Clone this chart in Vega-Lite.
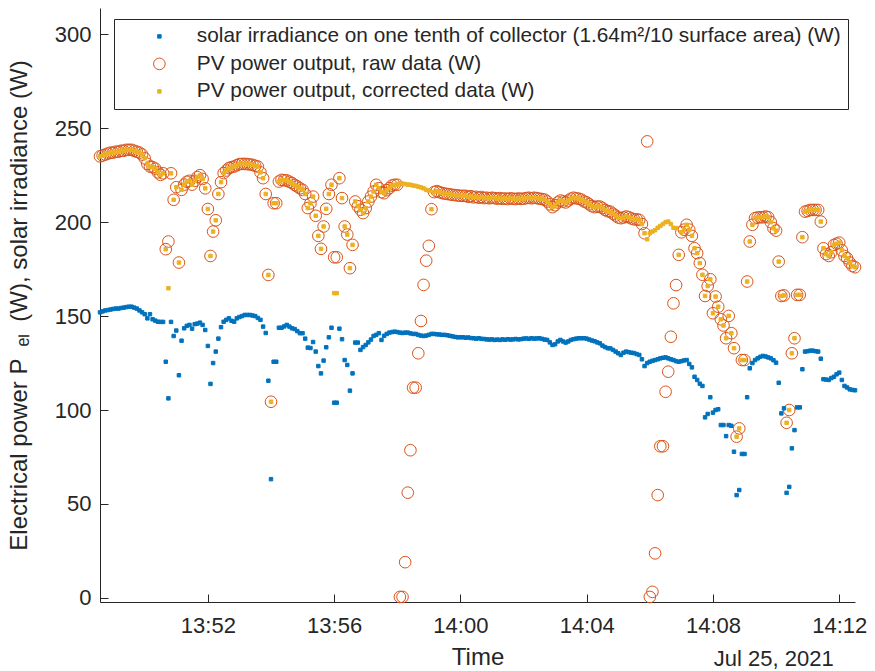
{
"$schema": "https://vega.github.io/schema/vega-lite/v6.json",
"width": 755, "height": 594,
"autosize": {"type": "none"},
"padding": {"left": 100, "top": 8, "right": 20, "bottom": 69},
"background": "white",
"title": {"text": "Jul 25, 2021", "orient": "bottom", "anchor": "end", "fontSize": 22, "fontWeight": "normal", "color": "#262626", "font": "Liberation Sans", "offset": -20, "dx": -33},
"config": {
  "view": {"stroke": null},
  "font": "Liberation Sans",
  "axis": {"domainColor": "#262626", "domainWidth": 1, "tickColor": "#262626", "tickWidth": 1, "tickSize": -8, "labelColor": "#262626", "labelFontSize": 22, "labelFont": "Liberation Sans", "titleFont": "Liberation Sans", "titleFontSize": 24, "titleFontWeight": "normal", "titleColor": "#262626", "grid": false},
  "legend": {"orient": "none", "legendX": 14, "legendY": 11, "direction": "vertical", "padding": 7, "strokeColor": "#262626", "fillColor": "white", "labelFontSize": 20.8, "labelFont": "Liberation Sans", "labelColor": "#262626", "labelLimit": 900, "symbolOffset": 28, "labelOffset": 27, "rowPadding": 5.5, "symbolStrokeWidth": 1}
},
"data": {"format": {"parse": {"t": "date:'%H:%M:%S'"}}, "values": [
{"t":"13:48:35","irr":152,"raw":235,"cor":235},
{"t":"13:48:40","irr":152.5,"raw":235.5,"cor":235.5},
{"t":"13:48:45","irr":153,"raw":236,"cor":236},
{"t":"13:48:50","irr":153.2,"raw":236.5,"cor":236.5},
{"t":"13:48:55","irr":153.5,"raw":237,"cor":237},
{"t":"13:49:00","irr":153.8,"raw":237,"cor":237},
{"t":"13:49:05","irr":154,"raw":237.5,"cor":237.5},
{"t":"13:49:10","irr":154,"raw":237.5,"cor":237.5},
{"t":"13:49:15","irr":154.3,"raw":238,"cor":238},
{"t":"13:49:20","irr":154.5,"raw":238,"cor":238},
{"t":"13:49:25","irr":154.8,"raw":238.5,"cor":238.5},
{"t":"13:49:30","irr":155,"raw":238.5,"cor":238.5},
{"t":"13:49:35","irr":155,"raw":238.5,"cor":238.5},
{"t":"13:49:40","irr":154.5,"raw":238,"cor":238},
{"t":"13:49:45","irr":154,"raw":237.5,"cor":237.5},
{"t":"13:49:50","irr":153,"raw":237,"cor":237},
{"t":"13:49:55","irr":152,"raw":236,"cor":236},
{"t":"13:50:00","irr":151,"raw":234,"cor":234},
{"t":"13:50:05","irr":148.8,"raw":231,"cor":231},
{"t":"13:50:10","irr":151,"raw":229.6,"cor":229.6},
{"t":"13:50:15","irr":148.3,"raw":229.3,"cor":229.3},
{"t":"13:50:20","irr":147.6,"raw":228.5,"cor":228.5},
{"t":"13:50:25","irr":147,"raw":226.5,"cor":226.5},
{"t":"13:50:30","irr":146.9,"raw":225.2,"cor":225.2},
{"t":"13:50:35","irr":146.9,"raw":226,"cor":226},
{"t":"13:50:40","irr":125.7,"raw":185.6,"cor":185.6},
{"t":"13:50:45","irr":106.2,"raw":189.7,"cor":164.8},
{"t":"13:50:50","irr":146.9,"raw":226,"cor":226},
{"t":"13:50:55","irr":139.4,"raw":211.9,"cor":211.9},
{"t":"13:51:00","irr":142.3,"raw":218.6,"cor":218.6},
{"t":"13:51:05","irr":118.5,"raw":178.5,"cor":178.5},
{"t":"13:51:10","irr":136.9,"raw":217.2,"cor":217.2},
{"t":"13:51:15","irr":143.5,"raw":220,"cor":220},
{"t":"13:51:20","irr":144.8,"raw":221.5,"cor":221.5},
{"t":"13:51:25","irr":145.3,"raw":222,"cor":222},
{"t":"13:51:30","irr":143.3,"raw":220,"cor":220},
{"t":"13:51:35","irr":145.7,"raw":222,"cor":222},
{"t":"13:51:40","irr":146,"raw":224,"cor":224},
{"t":"13:51:45","irr":146.5,"raw":225,"cor":225},
{"t":"13:51:50","irr":145.3,"raw":223,"cor":223},
{"t":"13:51:55","irr":142.6,"raw":218,"cor":218},
{"t":"13:52:00","irr":134.1,"raw":207,"cor":207},
{"t":"13:52:05","irr":113.9,"raw":182,"cor":182},
{"t":"13:52:10","irr":125,"raw":195,"cor":195},
{"t":"13:52:15","irr":131.1,"raw":201,"cor":201},
{"t":"13:52:20","irr":138,"raw":215,"cor":215},
{"t":"13:52:25","irr":144.1,"raw":221.3,"cor":221.3},
{"t":"13:52:30","irr":147,"raw":226.1,"cor":226.1},
{"t":"13:52:35","irr":148,"raw":227.5,"cor":227.5},
{"t":"13:52:40","irr":148.8,"raw":228.8,"cor":228.8},
{"t":"13:52:45","irr":147.5,"raw":229.3,"cor":229.3},
{"t":"13:52:50","irr":147,"raw":229.6,"cor":229.6},
{"t":"13:52:55","irr":148.8,"raw":230.3,"cor":230.3},
{"t":"13:53:00","irr":149.5,"raw":230.9,"cor":230.9},
{"t":"13:53:05","irr":150,"raw":231,"cor":231},
{"t":"13:53:10","irr":150.6,"raw":231,"cor":231},
{"t":"13:53:15","irr":150.6,"raw":230.9,"cor":230.9},
{"t":"13:53:20","irr":150.6,"raw":230.7,"cor":230.7},
{"t":"13:53:25","irr":150.3,"raw":230.5,"cor":230.5},
{"t":"13:53:30","irr":150,"raw":230,"cor":230},
{"t":"13:53:35","irr":149,"raw":229.6,"cor":229.6},
{"t":"13:53:40","irr":148,"raw":226.5,"cor":226.5},
{"t":"13:53:45","irr":144.4,"raw":223.4,"cor":223.4},
{"t":"13:53:50","irr":141,"raw":215,"cor":215},
{"t":"13:53:55","irr":115.6,"raw":171.9,"cor":171.9},
{"t":"13:54:00","irr":63.2,"raw":104.4,"cor":104.4},
{"t":"13:54:05","irr":125.7,"raw":210.1,"cor":210.1},
{"t":"13:54:10","irr":125.7,"raw":210.1,"cor":210.1},
{"t":"13:54:15","irr":143.8,"raw":221.6,"cor":221.6},
{"t":"13:54:20","irr":143.8,"raw":222.5,"cor":222.5},
{"t":"13:54:25","irr":144.5,"raw":222.3,"cor":222.3},
{"t":"13:54:30","irr":145.3,"raw":222.2,"cor":222.2},
{"t":"13:54:35","irr":144.4,"raw":221.5,"cor":221.5},
{"t":"13:54:40","irr":143.5,"raw":220.8,"cor":220.8},
{"t":"13:54:45","irr":143.1,"raw":219.8,"cor":219.8},
{"t":"13:54:50","irr":142,"raw":219,"cor":219},
{"t":"13:54:55","irr":140.9,"raw":218,"cor":218},
{"t":"13:55:00","irr":140.9,"raw":217.2,"cor":217.2},
{"t":"13:55:05","irr":138,"raw":215,"cor":215},
{"t":"13:55:10","irr":133.2,"raw":207.5,"cor":207.5},
{"t":"13:55:15","irr":133,"raw":210,"cor":210},
{"t":"13:55:20","irr":136.2,"raw":213.6,"cor":213.6},
{"t":"13:55:25","irr":131.1,"raw":203.4,"cor":203.4},
{"t":"13:55:30","irr":123.4,"raw":192.7,"cor":192.7},
{"t":"13:55:35","irr":119.5,"raw":185.8,"cor":185.8},
{"t":"13:55:40","irr":126.3,"raw":197.7,"cor":197.7},
{"t":"13:55:45","irr":133.4,"raw":207.1,"cor":207.1},
{"t":"13:55:50","irr":138.7,"raw":215,"cor":215},
{"t":"13:55:55","irr":143.8,"raw":219.9,"cor":219.9},
{"t":"13:56:00","irr":103.9,"raw":181.3,"cor":162.2},
{"t":"13:56:05","irr":103.9,"raw":181.3,"cor":162.2},
{"t":"13:56:10","irr":143.3,"raw":223.4,"cor":223.4},
{"t":"13:56:15","irr":137.7,"raw":212.8,"cor":212.8},
{"t":"13:56:20","irr":126.6,"raw":197.7,"cor":197.7},
{"t":"13:56:25","irr":124,"raw":193.4,"cor":193.4},
{"t":"13:56:30","irr":110.3,"raw":175.5,"cor":175.5},
{"t":"13:56:35","irr":119.5,"raw":187.9,"cor":187.9},
{"t":"13:56:40","irr":135.9,"raw":211,"cor":211},
{"t":"13:56:45","irr":135.9,"raw":208.5,"cor":208.5},
{"t":"13:56:50","irr":132,"raw":206.6,"cor":206.6},
{"t":"13:56:55","irr":133.5,"raw":204.8,"cor":204.8},
{"t":"13:57:00","irr":134.6,"raw":207.5,"cor":207.5},
{"t":"13:57:05","irr":136,"raw":211,"cor":211},
{"t":"13:57:10","irr":137.5,"raw":213.6,"cor":213.6},
{"t":"13:57:15","irr":139.4,"raw":216.3,"cor":216.3},
{"t":"13:57:20","irr":140,"raw":219.9,"cor":219.9},
{"t":"13:57:25","irr":140.9,"raw":218.1,"cor":218.1},
{"t":"13:57:30","irr":137.3,"raw":216,"cor":216},
{"t":"13:57:35","irr":139.5,"raw":215.4,"cor":215.4},
{"t":"13:57:40","irr":140.5,"raw":217,"cor":217},
{"t":"13:57:45","irr":141.2,"raw":218.1,"cor":218.1},
{"t":"13:57:50","irr":141.5,"raw":219.5,"cor":219.5},
{"t":"13:57:55","irr":141.7,"raw":219.9,"cor":219.9},
{"t":"13:58:00","irr":141.5,"raw":219.9,"cor":219.9},
{"t":"13:58:05","irr":141.2,"raw":0.5,"cor":220.8},
{"t":"13:58:10","irr":141,"raw":0.5,"cor":220.5},
{"t":"13:58:15","irr":141.2,"raw":19,"cor":220.3},
{"t":"13:58:20","irr":141.2,"raw":56,"cor":220},
{"t":"13:58:25","irr":140.8,"raw":78.6,"cor":219.9},
{"t":"13:58:30","irr":140.5,"raw":111.9,"cor":219.5},
{"t":"13:58:35","irr":140.5,"raw":111.9,"cor":219.3},
{"t":"13:58:40","irr":140,"raw":130.2,"cor":218.9},
{"t":"13:58:45","irr":139.6,"raw":147.4,"cor":218.5},
{"t":"13:58:50","irr":139.4,"raw":166.6,"cor":218},
{"t":"13:58:55","irr":139.6,"raw":179.5,"cor":217.2},
{"t":"13:59:00","irr":140,"raw":187.4,"cor":216.8},
{"t":"13:59:05","irr":140.5,"raw":206.9,"cor":206.9},
{"t":"13:59:10","irr":140.5,"raw":216,"cor":216},
{"t":"13:59:15","irr":140.3,"raw":216.5,"cor":216.5},
{"t":"13:59:20","irr":140.2,"raw":216,"cor":216},
{"t":"13:59:25","irr":140,"raw":215.5,"cor":215.5},
{"t":"13:59:30","irr":140,"raw":215.2,"cor":215.2},
{"t":"13:59:35","irr":139.8,"raw":215,"cor":215},
{"t":"13:59:40","irr":139.5,"raw":214.8,"cor":214.8},
{"t":"13:59:45","irr":139.2,"raw":214.5,"cor":214.5},
{"t":"13:59:50","irr":138.9,"raw":214.4,"cor":214.4},
{"t":"13:59:55","irr":138.7,"raw":214.2,"cor":214.2},
{"t":"14:00:00","irr":138.7,"raw":214,"cor":214},
{"t":"14:00:05","irr":138.7,"raw":214,"cor":214},
{"t":"14:00:10","irr":138.5,"raw":214,"cor":214},
{"t":"14:00:15","irr":138.6,"raw":213.5,"cor":213.5},
{"t":"14:00:20","irr":138.3,"raw":213.8,"cor":213.8},
{"t":"14:00:25","irr":138.2,"raw":213.2,"cor":213.2},
{"t":"14:00:30","irr":138,"raw":213.5,"cor":213.5},
{"t":"14:00:35","irr":138.2,"raw":213,"cor":213},
{"t":"14:00:40","irr":137.9,"raw":213.4,"cor":213.4},
{"t":"14:00:45","irr":137.8,"raw":212.8,"cor":212.8},
{"t":"14:00:50","irr":137.6,"raw":213,"cor":213},
{"t":"14:00:55","irr":137.5,"raw":212.7,"cor":212.7},
{"t":"14:01:00","irr":137.6,"raw":213,"cor":213},
{"t":"14:01:05","irr":137.3,"raw":212.8,"cor":212.8},
{"t":"14:01:10","irr":137.5,"raw":212.5,"cor":212.5},
{"t":"14:01:15","irr":137.3,"raw":212.8,"cor":212.8},
{"t":"14:01:20","irr":137.6,"raw":212.4,"cor":212.4},
{"t":"14:01:25","irr":137.4,"raw":212.6,"cor":212.6},
{"t":"14:01:30","irr":137.7,"raw":212.3,"cor":212.3},
{"t":"14:01:35","irr":137.5,"raw":212.7,"cor":212.7},
{"t":"14:01:40","irr":137.6,"raw":212.5,"cor":212.5},
{"t":"14:01:45","irr":137.8,"raw":212.3,"cor":212.3},
{"t":"14:01:50","irr":137.6,"raw":212.6,"cor":212.6},
{"t":"14:01:55","irr":137.7,"raw":212.4,"cor":212.4},
{"t":"14:02:00","irr":138,"raw":212.5,"cor":212.5},
{"t":"14:02:05","irr":138.1,"raw":212.8,"cor":212.8},
{"t":"14:02:10","irr":137.9,"raw":213,"cor":213},
{"t":"14:02:15","irr":138.2,"raw":212.7,"cor":212.7},
{"t":"14:02:20","irr":138,"raw":213,"cor":213},
{"t":"14:02:25","irr":138.1,"raw":212.8,"cor":212.8},
{"t":"14:02:30","irr":138.2,"raw":212.5,"cor":212.5},
{"t":"14:02:35","irr":137.9,"raw":212.3,"cor":212.3},
{"t":"14:02:40","irr":137.5,"raw":212,"cor":212},
{"t":"14:02:45","irr":137.3,"raw":211,"cor":211},
{"t":"14:02:50","irr":136,"raw":209.5,"cor":209.5},
{"t":"14:02:55","irr":134.6,"raw":208,"cor":208},
{"t":"14:03:00","irr":135,"raw":209,"cor":209},
{"t":"14:03:05","irr":136.5,"raw":210.5,"cor":210.5},
{"t":"14:03:10","irr":137.3,"raw":211.5,"cor":211.5},
{"t":"14:03:15","irr":136.5,"raw":211,"cor":211},
{"t":"14:03:20","irr":135.9,"raw":210.5,"cor":210.5},
{"t":"14:03:25","irr":136.5,"raw":211.5,"cor":211.5},
{"t":"14:03:30","irr":137.3,"raw":212.5,"cor":212.5},
{"t":"14:03:35","irr":137.7,"raw":213,"cor":213},
{"t":"14:03:40","irr":138,"raw":212.7,"cor":212.7},
{"t":"14:03:45","irr":138.2,"raw":212.5,"cor":212.5},
{"t":"14:03:50","irr":138.2,"raw":212,"cor":212},
{"t":"14:03:55","irr":138.2,"raw":211,"cor":211},
{"t":"14:04:00","irr":138,"raw":210.5,"cor":210.5},
{"t":"14:04:05","irr":137.5,"raw":209.5,"cor":209.5},
{"t":"14:04:10","irr":137,"raw":208.5,"cor":208.5},
{"t":"14:04:15","irr":136.6,"raw":208,"cor":208},
{"t":"14:04:20","irr":136,"raw":208.3,"cor":208.3},
{"t":"14:04:25","irr":135.5,"raw":208.3,"cor":208.3},
{"t":"14:04:30","irr":134.3,"raw":207.5,"cor":207.5},
{"t":"14:04:35","irr":133.5,"raw":206.5,"cor":206.5},
{"t":"14:04:40","irr":132.9,"raw":205.8,"cor":205.8},
{"t":"14:04:45","irr":132.8,"raw":205.6,"cor":205.6},
{"t":"14:04:50","irr":132,"raw":204.5,"cor":204.5},
{"t":"14:04:55","irr":131.1,"raw":203.5,"cor":203.5},
{"t":"14:05:00","irr":130.2,"raw":202.5,"cor":202.5},
{"t":"14:05:05","irr":129.3,"raw":202.1,"cor":202.1},
{"t":"14:05:10","irr":130.5,"raw":202.5,"cor":202.5},
{"t":"14:05:15","irr":131.1,"raw":203,"cor":203},
{"t":"14:05:20","irr":130.8,"raw":202.6,"cor":202.6},
{"t":"14:05:25","irr":130.5,"raw":202,"cor":202},
{"t":"14:05:30","irr":130.3,"raw":201.5,"cor":201.5},
{"t":"14:05:35","irr":129.8,"raw":201.5,"cor":201.5},
{"t":"14:05:40","irr":129.3,"raw":201.2,"cor":201.2},
{"t":"14:05:45","irr":127,"raw":199,"cor":199},
{"t":"14:05:50","irr":123.4,"raw":194.1,"cor":194.1},
{"t":"14:05:55","irr":125,"raw":243,"cor":190.9},
{"t":"14:06:00","irr":125.7,"raw":0.5,"cor":194.1},
{"t":"14:06:05","irr":126.2,"raw":3.2,"cor":195},
{"t":"14:06:10","irr":126.6,"raw":23.7,"cor":195.7},
{"t":"14:06:15","irr":127,"raw":54.7,"cor":197},
{"t":"14:06:20","irr":127.5,"raw":80.7,"cor":198},
{"t":"14:06:25","irr":127.8,"raw":80.7,"cor":199},
{"t":"14:06:30","irr":128,"raw":109.7,"cor":200},
{"t":"14:06:35","irr":127.5,"raw":120.4,"cor":200.3},
{"t":"14:06:40","irr":127,"raw":139,"cor":199},
{"t":"14:06:45","irr":126.6,"raw":156.8,"cor":197},
{"t":"14:06:50","irr":126,"raw":166.5,"cor":196.8},
{"t":"14:06:55","irr":125.7,"raw":182.6,"cor":182.6},
{"t":"14:07:00","irr":126,"raw":194.6,"cor":194.6},
{"t":"14:07:05","irr":126.4,"raw":196,"cor":196},
{"t":"14:07:10","irr":126.6,"raw":198.6,"cor":198.6},
{"t":"14:07:15","irr":124.5,"raw":196,"cor":196},
{"t":"14:07:20","irr":122.7,"raw":192.7,"cor":192.7},
{"t":"14:07:25","irr":117.7,"raw":186.1,"cor":186.1},
{"t":"14:07:30","irr":116,"raw":183.5,"cor":183.5},
{"t":"14:07:35","irr":114,"raw":178.2,"cor":178.2},
{"t":"14:07:40","irr":112.8,"raw":172,"cor":172},
{"t":"14:07:45","irr":96.1,"raw":160.7,"cor":160.7},
{"t":"14:07:50","irr":97.9,"raw":166,"cor":166},
{"t":"14:07:55","irr":106.8,"raw":169.6,"cor":169.6},
{"t":"14:08:00","irr":98.6,"raw":151.5,"cor":151.5},
{"t":"14:08:05","irr":100,"raw":160.4,"cor":160.4},
{"t":"14:08:10","irr":100.4,"raw":155,"cor":155},
{"t":"14:08:15","irr":92,"raw":148.3,"cor":148.3},
{"t":"14:08:20","irr":92,"raw":145,"cor":145},
{"t":"14:08:25","irr":86.1,"raw":138.2,"cor":138.2},
{"t":"14:08:30","irr":92,"raw":150.1,"cor":150.1},
{"t":"14:08:35","irr":91.6,"raw":140.9,"cor":140.9},
{"t":"14:08:40","irr":77.8,"raw":132.9,"cor":132.9},
{"t":"14:08:45","irr":54.7,"raw":85.8,"cor":85.8},
{"t":"14:08:50","irr":57.4,"raw":90.2,"cor":90.2},
{"t":"14:08:55","irr":76.6,"raw":126.6,"cor":126.6},
{"t":"14:09:00","irr":76.6,"raw":126.6,"cor":126.6},
{"t":"14:09:05","irr":106.8,"raw":168.4,"cor":168.4},
{"t":"14:09:10","irr":122.2,"raw":189.7,"cor":189.7},
{"t":"14:09:15","irr":125,"raw":198.6,"cor":198.6},
{"t":"14:09:20","irr":126.6,"raw":202.1,"cor":202.1},
{"t":"14:09:25","irr":127.5,"raw":202.5,"cor":202.5},
{"t":"14:09:30","irr":128.3,"raw":202.6,"cor":202.6},
{"t":"14:09:35","irr":128.8,"raw":202.6,"cor":202.6},
{"t":"14:09:40","irr":128.5,"raw":203,"cor":203},
{"t":"14:09:45","irr":128,"raw":202.6,"cor":202.6},
{"t":"14:09:50","irr":127.5,"raw":200,"cor":200},
{"t":"14:09:55","irr":126.5,"raw":196.8,"cor":196.8},
{"t":"14:10:00","irr":125.2,"raw":195.5,"cor":195.5},
{"t":"14:10:05","irr":114.5,"raw":179,"cor":179},
{"t":"14:10:10","irr":98.2,"raw":160.7,"cor":160.7},
{"t":"14:10:15","irr":100.9,"raw":161,"cor":161},
{"t":"14:10:20","irr":55.9,"raw":93.2,"cor":93.2},
{"t":"14:10:25","irr":59.1,"raw":100,"cor":100},
{"t":"14:10:30","irr":79.6,"raw":130.2,"cor":130.2},
{"t":"14:10:35","irr":89.3,"raw":138.2,"cor":138.2},
{"t":"14:10:40","irr":101.4,"raw":161.3,"cor":161.3},
{"t":"14:10:45","irr":101.4,"raw":161.3,"cor":161.3},
{"t":"14:10:50","irr":121.7,"raw":192,"cor":192},
{"t":"14:10:55","irr":131.1,"raw":205.6,"cor":205.6},
{"t":"14:11:00","irr":131.3,"raw":206,"cor":206},
{"t":"14:11:05","irr":131.6,"raw":206.5,"cor":206.5},
{"t":"14:11:10","irr":131.6,"raw":206.5,"cor":206.5},
{"t":"14:11:15","irr":131.3,"raw":206.5,"cor":206.5},
{"t":"14:11:20","irr":131.1,"raw":206.5,"cor":206.5},
{"t":"14:11:25","irr":127.3,"raw":200.3,"cor":200.3},
{"t":"14:11:30","irr":116.4,"raw":186.1,"cor":186.1},
{"t":"14:11:35","irr":116.2,"raw":183,"cor":183},
{"t":"14:11:40","irr":116,"raw":182,"cor":182},
{"t":"14:11:45","irr":117,"raw":184,"cor":184},
{"t":"14:11:50","irr":117.7,"raw":187.9,"cor":187.9},
{"t":"14:11:55","irr":119,"raw":188.5,"cor":188.5},
{"t":"14:12:00","irr":119.9,"raw":189.1,"cor":189.1},
{"t":"14:12:05","irr":116,"raw":185,"cor":185},
{"t":"14:12:10","irr":112.8,"raw":182,"cor":182},
{"t":"14:12:15","irr":112,"raw":180.8,"cor":180.8},
{"t":"14:12:20","irr":111,"raw":178.5,"cor":178.5},
{"t":"14:12:25","irr":110.7,"raw":176.7,"cor":176.7},
{"t":"14:12:30","irr":110.5,"raw":176,"cor":176}
]},
"transform": [{"fold": ["irr", "raw", "cor"], "as": ["series", "value"]}],
"mark": {"type": "point", "strokeWidth": 1, "opacity": 1},
"encoding": {
  "x": {"field": "t", "type": "temporal",
    "scale": {"domain": [{"year": 1900, "month": 1, "date": 1, "hours": 13, "minutes": 48, "seconds": 35}, {"year": 1900, "month": 1, "date": 1, "hours": 14, "minutes": 12, "seconds": 30}]},
    "axis": {"title": "Time", "format": "%H:%M", "labelPadding": 21, "titlePadding": 9, "labelFlush": false,
      "values": [{"year": 1900, "month": 1, "date": 1, "hours": 13, "minutes": 52}, {"year": 1900, "month": 1, "date": 1, "hours": 13, "minutes": 56}, {"year": 1900, "month": 1, "date": 1, "hours": 14, "minutes": 0}, {"year": 1900, "month": 1, "date": 1, "hours": 14, "minutes": 4}, {"year": 1900, "month": 1, "date": 1, "hours": 14, "minutes": 8}, {"year": 1900, "month": 1, "date": 1, "hours": 14, "minutes": 12}]}},
  "y": {"field": "value", "type": "quantitative",
    "scale": {"domain": [-2.2, 314], "nice": false, "zero": false},
    "axis": {"title": "Electrical power P\u2002ₑₗ\u2002(W), solar irradiance (W)", "values": [0, 50, 100, 150, 200, 250, 300], "labelPadding": 17, "titlePadding": 23}},
  "fill": {"field": "series", "type": "nominal",
    "scale": {"type": "ordinal", "domain": ["irr", "raw", "cor"], "range": ["#0072BD", "transparent", "#EDB120"]},
    "legend": {"title": null, "labelExpr": "datum.value == 'irr' ? 'solar irradiance on one tenth of collector (1.64m²/10 surface area) (W)' : datum.value == 'raw' ? 'PV power output, raw data (W)' : 'PV power output, corrected data (W)'"}},
  "stroke": {"field": "series", "type": "nominal",
    "scale": {"type": "ordinal", "domain": ["irr", "raw", "cor"], "range": ["#0072BD", "#D95319", "#EDB120"]},
    "legend": {"title": null}},
  "shape": {"field": "series", "type": "nominal",
    "scale": {"type": "ordinal", "domain": ["irr", "raw", "cor"], "range": ["square", "circle", "square"]},
    "legend": {"title": null}},
  "size": {"field": "series", "type": "nominal",
    "scale": {"type": "ordinal", "domain": ["irr", "raw", "cor"], "range": [12, 135, 12]},
    "legend": {"title": null}},
  "order": {"field": "series", "sort": "descending"}
}
}
